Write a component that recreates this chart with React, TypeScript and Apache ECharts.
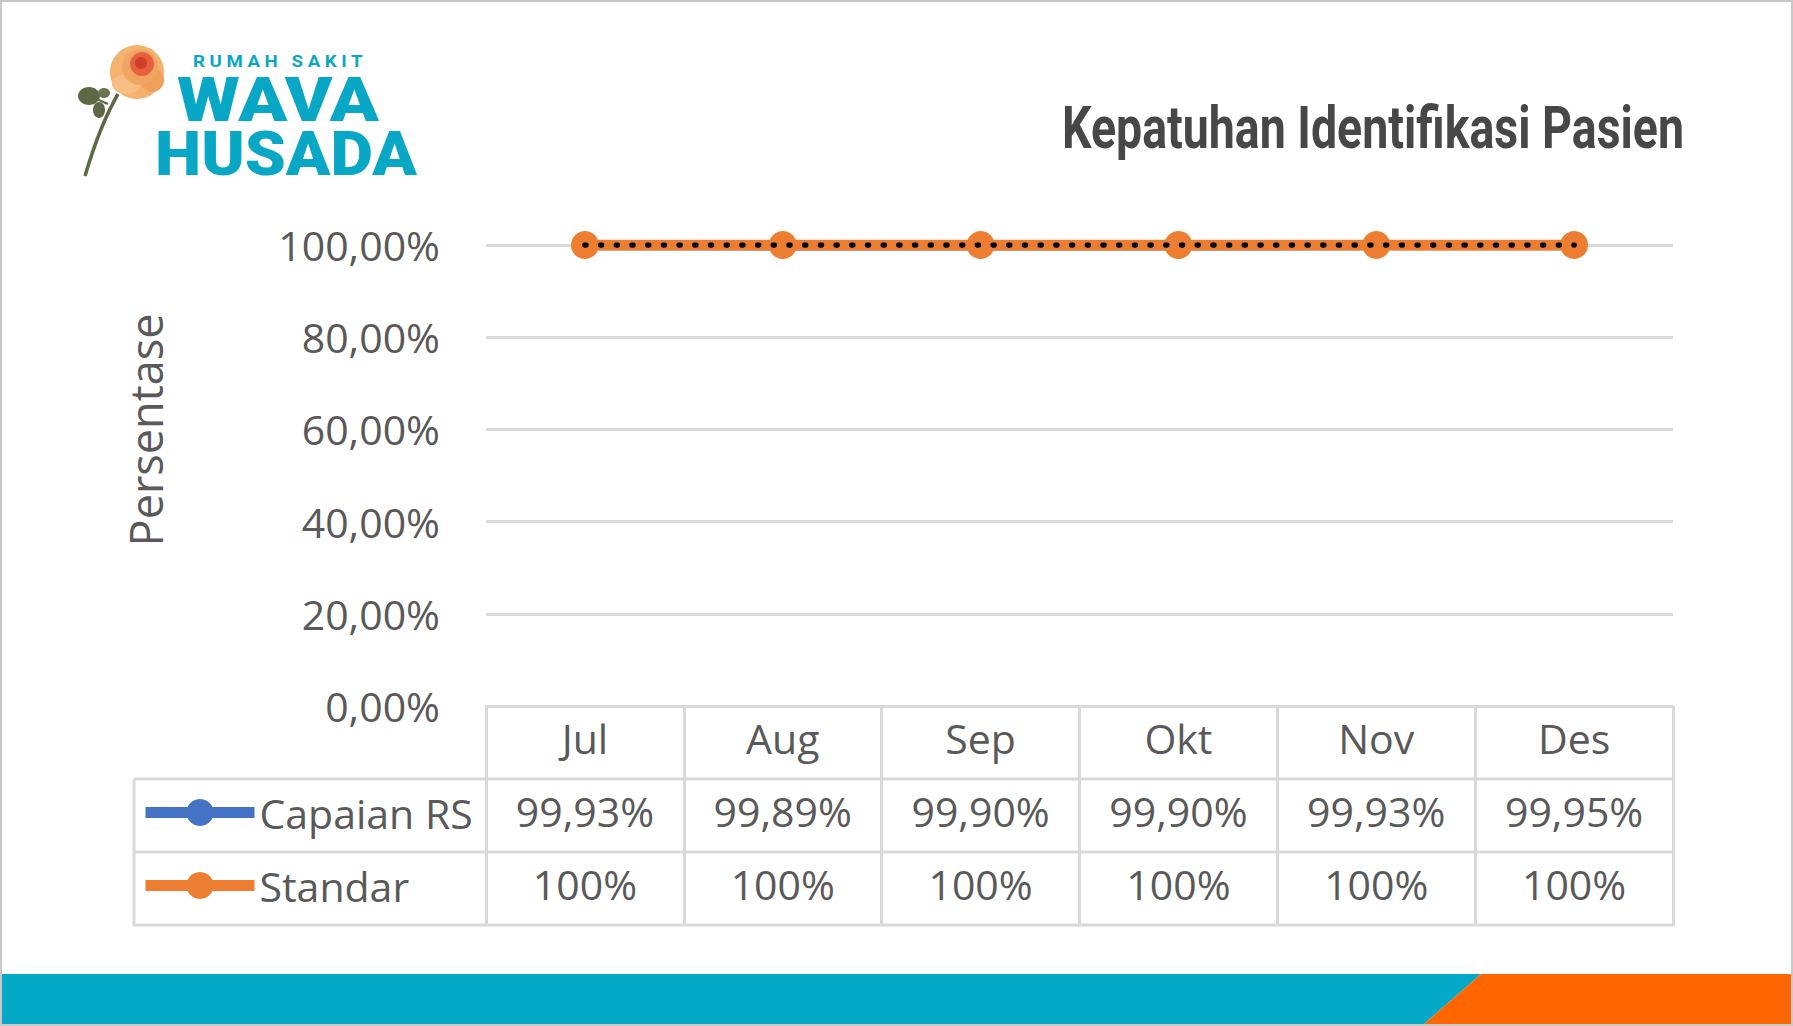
import React, { useEffect, useRef } from "react";
import * as echarts from "echarts";

const categories = ["Jul", "Aug", "Sep", "Okt", "Nov", "Des"];
const capaianRS = [99.93, 99.89, 99.9, 99.9, 99.93, 99.95];
const standar = [100, 100, 100, 100, 100, 100];
const standarTrend = [100, 100, 100, 100, 100, 100];
const seriesNames = ["Capaian RS", "Standar"];
const yMin = 0;
const yMax = 100;
const yStep = 20;

const titleText = "Kepatuhan Identifikasi Pasien";
const axisTitle = "Persentase";

const W = 1793;
const H = 1026;
const FONT = "'Open Sans', 'Noto Sans', sans-serif";
const TXT = "#595959";
const GRIDC = "#d9d9d9";
const TEAL = "#08a7c6";

const fmt2 = (v: number) => v.toFixed(2).replace(".", ",") + "%";
const fmt0 = (v: number) => v.toFixed(0) + "%";

function measure(text: string, font: string): number {
  const c = document.createElement("canvas").getContext("2d");
  if (!c) return 100;
  c.font = font;
  return c.measureText(text).width || 100;
}

export default function App() {
  const ref = useRef<HTMLDivElement>(null);
  useEffect(() => {
    if (!ref.current) return;
    const chart = echarts.init(ref.current, undefined, { renderer: "svg", width: W, height: H });

    const titleFont = "bold 60px Roboto";
    const titleScale = 622 / measure(titleText, titleFont);
    const wavaFont = "900 62px Roboto";
    const wavaScale = 202 / measure("WAVA", wavaFont);
    const husadaScale = 262 / measure("HUSADA", wavaFont);
    const rsText = "R U M A H   S A K I T";
    const rsFont = "bold 16px Roboto";
    const rsScale = 170 / measure(rsText, rsFont);

    const gridLeft = 486;
    const gridRight = 1673;
    const gridTop = 245;
    const gridBottomY = 706;
    const rowH = 73;
    const tableLeft = 134;

    const lineStyleT = { stroke: GRIDC, lineWidth: 3 };

    const option: any = {
      animation: false,
      backgroundColor: "#ffffff",
      grid: { left: gridLeft, right: W - gridRight, top: gridTop, bottom: H - gridBottomY, containLabel: false },
      legend: {
        data: seriesNames,
        orient: "vertical",
        left: 135,
        top: gridBottomY + rowH - 8,
        itemGap: 0,
        itemWidth: 109,
        itemHeight: 34,
        selectedMode: false,
        lineStyle: { width: 11 },
        textStyle: { fontFamily: FONT, fontSize: 41, color: TXT, lineHeight: rowH },
      },
      xAxis: {
        type: "category",
        data: categories,
        boundaryGap: true,
        axisLine: { show: true, lineStyle: { color: GRIDC, width: 3 } },
        axisTick: { show: true, interval: 0, length: rowH * 3, lineStyle: { color: GRIDC, width: 3 } },
        axisLabel: {
          interval: 0,
          margin: -5,
          verticalAlign: "top",
          formatter: (val: string, idx: number) =>
            `{h|${val}}\n{v|${fmt2(capaianRS[idx])}}\n{v|${fmt0(standar[idx])}}`,
          rich: {
            h: { fontFamily: FONT, fontSize: 41, color: TXT, lineHeight: rowH, height: rowH },
            v: { fontFamily: FONT, fontSize: 41, color: TXT, lineHeight: rowH, height: rowH },
          },
        },
      },
      yAxis: {
        type: "value",
        min: yMin,
        max: yMax,
        interval: yStep,
        axisLine: { show: false },
        axisTick: { show: false },
        axisLabel: { formatter: (v: number) => fmt2(v), fontFamily: FONT, fontSize: 41, color: TXT, margin: 46, padding: [0, 0, 8, 0] },
        splitLine: { show: true, lineStyle: { color: GRIDC, width: 3 } },
      },
      series: [
        {
          name: seriesNames[0],
          type: "line",
          data: capaianRS,
          symbol: "circle",
          symbolSize: 26,
          color: "#4472C4",
          lineStyle: { width: 10, color: "#4472C4" },
          itemStyle: { color: "#4472C4" },
          z: 2,
        },
        {
          name: seriesNames[1],
          type: "line",
          data: standar,
          symbol: "circle",
          symbolSize: 28,
          color: "#ED7D31",
          lineStyle: { width: 11, color: "#ED7D31" },
          itemStyle: { color: "#ED7D31" },
          z: 3,
        },
        {
          name: "Tren Standar",
          type: "line",
          data: standarTrend,
          symbol: "none",
          lineStyle: { width: 5.5, color: "#000000", type: [1, 14.7], cap: "round" },
          z: 4,
          silent: true,
        },
      ],
      graphic: [
        { type: "rect", shape: { x: 1, y: 1, width: W - 2, height: H - 2 }, style: { fill: "none", stroke: "#c8c8c8", lineWidth: 2 }, z: 100 },
        { type: "polygon", shape: { points: [[2, 974], [1481, 974], [1424, 1024], [2, 1024]] }, style: { fill: "#03a9c6" } },
        { type: "polygon", shape: { points: [[1481, 974], [1791, 974], [1791, 1024], [1424, 1024]] }, style: { fill: "#ff6600" } },
        // table lines
        { type: "line", shape: { x1: tableLeft, y1: gridBottomY + rowH, x2: gridRight, y2: gridBottomY + rowH }, style: lineStyleT },
        { type: "line", shape: { x1: tableLeft, y1: gridBottomY + rowH * 2, x2: gridRight, y2: gridBottomY + rowH * 2 }, style: lineStyleT },
        { type: "line", shape: { x1: tableLeft - 1.5, y1: gridBottomY + rowH * 3, x2: gridRight + 1.5, y2: gridBottomY + rowH * 3 }, style: lineStyleT },
        { type: "line", shape: { x1: tableLeft, y1: gridBottomY + rowH, x2: tableLeft, y2: gridBottomY + rowH * 3 }, style: lineStyleT },
        // title
        {
          type: "text",
          x: 1684,
          y: 97,
          scaleX: titleScale,
          style: { text: titleText, font: titleFont, fill: "#474747", textAlign: "right", textVerticalAlign: "top" },
        },
        // axis title
        {
          type: "text",
          x: 145,
          y: 430,
          rotation: Math.PI / 2,
          style: { text: axisTitle, font: `45px ${FONT}`, fill: TXT, textAlign: "center", textVerticalAlign: "middle" },
        },
        // logo text
        {
          type: "text",
          x: 193,
          y: 61,
          scaleX: rsScale,
          style: { text: rsText, font: rsFont, fill: TEAL, textAlign: "left", textVerticalAlign: "middle" },
        },
        {
          type: "text",
          x: 177,
          y: 100,
          scaleX: wavaScale,
          style: { text: "WAVA", font: wavaFont, fill: TEAL, textAlign: "left", textVerticalAlign: "middle" },
        },
        {
          type: "text",
          x: 155,
          y: 154,
          scaleX: husadaScale,
          style: { text: "HUSADA", font: wavaFont, fill: TEAL, textAlign: "left", textVerticalAlign: "middle" },
        },
        // rose
        { type: "bezierCurve", shape: { x1: 118, y1: 94, cpx1: 100, cpy1: 125, x2: 85, y2: 176 }, style: { stroke: "#5d6845", lineWidth: 3.5, fill: "none" } },
        { type: "line", shape: { x1: 108, y1: 104, x2: 94, y2: 98 }, style: { stroke: "#5d6845", lineWidth: 2 } },
        { type: "ellipse", shape: { cx: 89, cy: 96, rx: 11, ry: 9 }, style: { fill: "#5d6845" } },
        { type: "ellipse", shape: { cx: 99, cy: 110, rx: 6, ry: 8 }, style: { fill: "#5d6845" } },
        { type: "ellipse", shape: { cx: 104, cy: 93, rx: 6, ry: 5 }, style: { fill: "#6a7550" } },
        { type: "circle", shape: { cx: 137, cy: 72, r: 27 }, style: { fill: "#f5b26e" } },
        { type: "ellipse", shape: { cx: 126, cy: 84, rx: 14, ry: 10 }, style: { fill: "#f6be83" } },
        { type: "ellipse", shape: { cx: 152, cy: 80, rx: 12, ry: 12 }, style: { fill: "#ef9f5a" } },
        { type: "circle", shape: { cx: 140, cy: 67, r: 18 }, style: { fill: "#f0a563" } },
        { type: "circle", shape: { cx: 142, cy: 64, r: 12 }, style: { fill: "#e6623f" } },
        { type: "circle", shape: { cx: 141, cy: 63, r: 6 }, style: { fill: "#cf3f2c" } },
      ],
    };
    chart.setOption(option);
    return () => chart.dispose();
  }, []);
  return <div ref={ref} style={{ position: "fixed", left: 0, top: 0, width: W, height: H, background: "#fff" }} />;
}
